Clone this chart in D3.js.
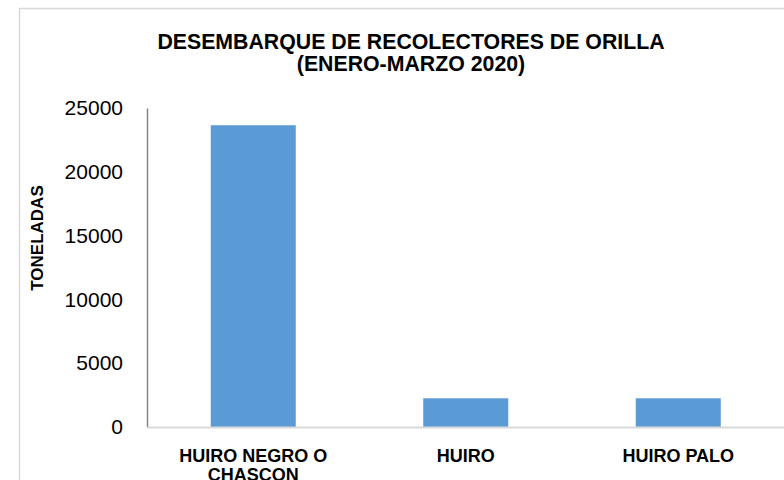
<!DOCTYPE html>
<html>
<head>
<meta charset="utf-8">
<script src="https://cdn.jsdelivr.net/npm/d3@7"></script>
<style>
  html, body { margin: 0; padding: 0; background: #fff; }
  svg { display: block; font-family: "Liberation Sans", Arial, sans-serif; }
</style>
</head>
<body>
<svg width="784" height="480"></svg>
<script>
// Datos
const categorias = ['HUIRO NEGRO O CHASCON', 'HUIRO', 'HUIRO PALO'];
const toneladas = [23650, 2250, 2250];
const ticksY = [0, 5000, 10000, 15000, 20000, 25000];
const titulo = ['DESEMBARQUE DE RECOLECTORES DE ORILLA', '(ENERO-MARZO 2020)'];
const etiquetaY = 'TONELADAS';

const svg = d3.select('svg');
const width = +svg.attr('width');
const height = +svg.attr('height');
const margens = { left: 147, right: -0.5, top: 108, bottom: 53 };
const innerWidth = width - margens.left - margens.right;
const innerHeight = height - margens.top - margens.bottom;

// Borde del área del gráfico (se corta a la derecha y abajo)
svg.append('rect')
    .attr('x', 19.5)
    .attr('y', 8.5)
    .attr('width', width)
    .attr('height', height)
    .attr('fill', 'none')
    .attr('stroke', '#d9d9d9')
    .attr('stroke-width', 1.5);

const data = categorias.map((c, i) => ({ cat: c, valor: toneladas[i] }));

// --- Escalas ---
const x = d3.scaleBand()
    .domain(categorias)
    .range([0, innerWidth])
    .paddingInner(0.6)
    .paddingOuter(0.3);

const y = d3.scaleLinear()
    .domain([0, 25000])
    .range([innerHeight, 0]);

const g = svg.append('g')
    .attr('transform', `translate(${margens.left},${margens.top})`);

// --- Barras ---
g.append('g')
    .selectAll('rect')
    .data(data)
    .join('rect')
        .attr('x', d => x(d.cat))
        .attr('y', d => y(d.valor))
        .attr('width', x.bandwidth())
        .attr('height', d => innerHeight - y(d.valor))
        .attr('fill', '#5b9bd5');

// --- Eje Y ---
const eixoY = g.append('g')
    .call(d3.axisLeft(y).tickValues(ticksY).tickFormat(d3.format('d')).tickSize(0).tickPadding(24));
eixoY.select('.domain').attr('stroke', '#868686').attr('stroke-width', 1.5);
eixoY.selectAll('text')
    .attr('font-size', 21)
    .attr('font-family', '"Liberation Sans", Arial, sans-serif')
    .attr('fill', '#000');

// --- Eje X ---
const eixoX = g.append('g')
    .attr('transform', `translate(0,${innerHeight})`)
    .call(d3.axisBottom(x).tickSize(0));
eixoX.select('.domain').attr('stroke', '#d9d9d9').attr('stroke-width', 2);
eixoX.selectAll('text')
    .attr('font-size', 18)
    .attr('font-weight', 'bold')
    .attr('font-family', '"Liberation Sans", Arial, sans-serif')
    .attr('fill', '#000')
    .attr('dy', null)
    .attr('y', null)
    .each(function (d) {
        // partir etiquetas largas en varias líneas
        const t = d3.select(this);
        const palabras = d.split(' ');
        t.text(null);
        const lineas = [];
        let linea = [];
        const maxW = x.step() * 0.9;
        let tspan = t.append('tspan');
        palabras.forEach(p => {
            linea.push(p);
            tspan.text(linea.join(' '));
            if (tspan.node().getComputedTextLength() > maxW && linea.length > 1) {
                linea.pop();
                lineas.push(linea.join(' '));
                linea = [p];
                tspan.text(p);
            }
        });
        lineas.push(linea.join(' '));
        t.text(null);
        lineas.forEach((l, i) => {
            t.append('tspan').attr('x', 0).attr('y', 35 + i * 19).text(l);
        });
    });

// --- Etiqueta eje Y ---
svg.append('text')
    .attr('transform', 'translate(37.5,238) rotate(-90)')
    .attr('text-anchor', 'middle')
    .attr('dominant-baseline', 'central')
    .attr('font-size', 17)
    .attr('font-weight', 'bold')
    .text(etiquetaY);

// --- Título ---
svg.append('g')
    .selectAll('text')
    .data(titulo)
    .join('text')
        .attr('x', 411)
        .attr('y', (d, i) => 49 + i * 22)
        .attr('text-anchor', 'middle')
        .attr('font-size', 21.3)
        .attr('font-weight', 'bold')
        .text(d => d);
</script>
</body>
</html>
